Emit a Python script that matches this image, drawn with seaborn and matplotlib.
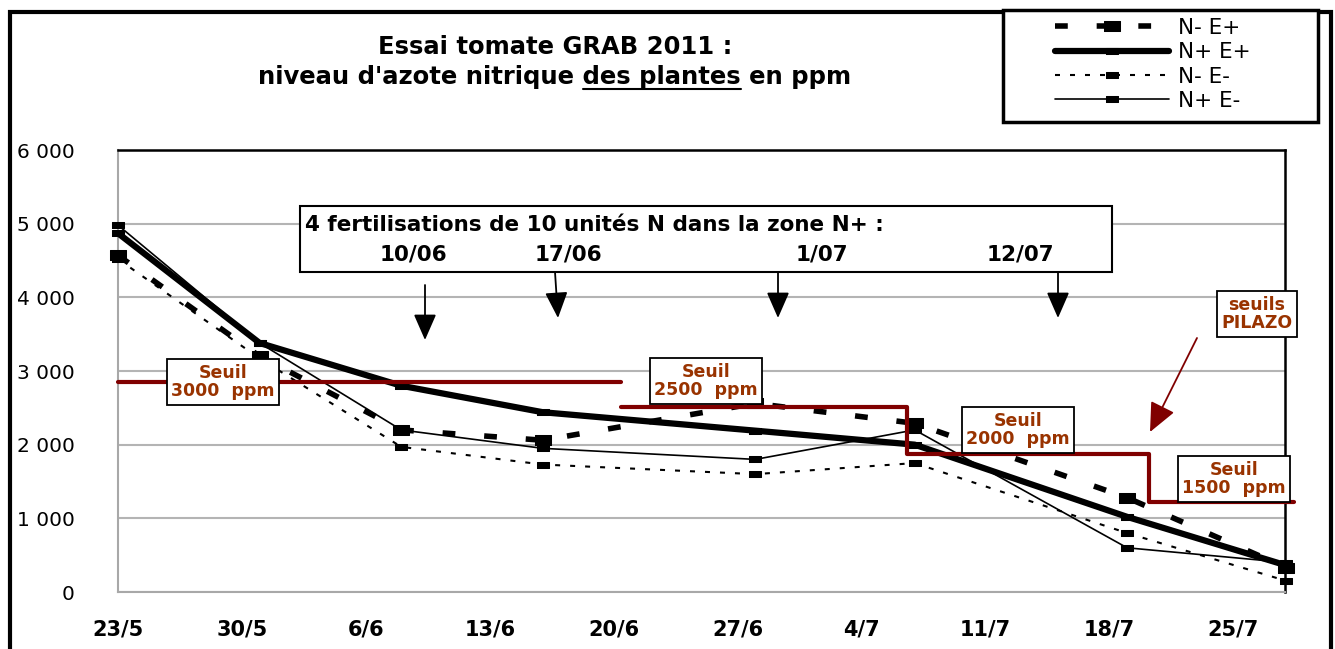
import matplotlib
matplotlib.use("Agg")
import matplotlib.pyplot as plt
from matplotlib.patches import Rectangle, FancyArrowPatch
from matplotlib.lines import Line2D
import pandas as pd
import seaborn as sns

# dates de prelevement et teneurs (ppm)
sample_dates = ['2011-05-23', '2011-05-31', '2011-06-08', '2011-06-16',
                '2011-06-28', '2011-07-07', '2011-07-19', '2011-07-28']
n_moins_e_plus = [4570, 3200, 2200, 2060, 2560, 2290, 1280, 330]
n_plus_e_plus = [4870, 3380, 2800, 2440, 2190, 2000, 1020, 360]
n_moins_e_moins = [4520, 3170, 1970, 1730, 1600, 1750, 800, 150]
n_plus_e_moins = [4980, 3380, 2200, 1950, 1800, 2200, 600, 400]
series_labels = ['N- E+', 'N+ E+', 'N- E-', 'N+ E-']

# seuils PILAZO (paliers)
seuil_a_dates = ['2011-05-23 00:00', '2011-06-20 10:00']
seuil_a_values = [2850, 2850]
seuil_b_dates = ['2011-06-20 10:00', '2011-07-06 14:00', '2011-07-06 14:00',
                 '2011-07-20 05:00', '2011-07-20 05:00', '2011-07-28 10:00']
seuil_b_values = [2510, 2510, 1880, 1880, 1220, 1220]
seuil_labels = ['Seuil\n3000  ppm', 'Seuil\n2500  ppm', 'Seuil\n2000  ppm', 'Seuil\n1500  ppm']

tick_dates = pd.date_range('2011-05-23', '2011-07-25', freq='7D')
tick_labels = ['23/5', '30/5', '6/6', '13/6', '20/6', '27/6', '4/7', '11/7', '18/7', '25/7']
fert_labels = ['10/06', '17/06', '1/07', '12/07']

W, H = 1335, 649


def fx(px):
    return px / W


def fy(py):
    return 1 - py / H


sns.set_style("white")
plt.rcParams['font.family'] = ['DejaVu Sans']
plt.rcParams['text.color'] = 'black'
plt.rcParams['xtick.labelcolor'] = 'black'
plt.rcParams['ytick.labelcolor'] = 'black'

df = pd.DataFrame({
    'date': pd.to_datetime(sample_dates * 4),
    'ppm': n_moins_e_plus + n_plus_e_plus + n_moins_e_moins + n_plus_e_moins,
    'serie': [s for s in series_labels for _ in sample_dates],
})

rect = [(-1, -0.55), (1, -0.55), (1, 0.55), (-1, 0.55), (-1, -0.55)]
styles = {
    'N- E+': dict(lw=4, linestyle=(0, (2.3, 5.2)), marker=rect, ms=12, zorder=4),
    'N+ E+': dict(lw=4.5, linestyle='-', marker=rect, ms=9, zorder=5),
    'N- E-': dict(lw=1.5, linestyle=(0, (2.4, 4.8)), marker=rect, ms=8, zorder=3),
    'N+ E-': dict(lw=1.2, linestyle='-', marker=rect, ms=8, zorder=3),
}

fig = plt.figure(figsize=(W / 100, H / 100), dpi=100)
ax = fig.add_axes([fx(118), fy(592), fx(1285) - fx(118), fy(150) - fy(592)])

for s in series_labels:
    sns.lineplot(data=df[df['serie'] == s], x='date', y='ppm', ax=ax, color='black',
                 label=s, clip_on=False, mec='black', mfc='black', **styles[s])

dark_red = '#800000'
brown = '#993300'
ax.plot(pd.to_datetime(seuil_a_dates), seuil_a_values, color=dark_red, lw=3, zorder=6, clip_on=False)
ax.plot(pd.to_datetime(seuil_b_dates), seuil_b_values, color=dark_red, lw=3, zorder=6, clip_on=False)

ax.set_xlim(pd.Timestamp('2011-05-23'), pd.Timestamp('2011-07-27 22:00'))
ax.set_ylim(0, 6000)
ax.set_yticks(range(0, 7000, 1000))
ax.set_yticklabels([f"{v:,}".replace(",", " ") for v in range(0, 7000, 1000)])
ax.set_xticks(tick_dates)
ax.set_xticklabels(tick_labels, fontweight='bold')
ax.set_xlabel('')
ax.set_ylabel('')
ax.get_legend().remove()

ax.grid(axis='y', color='#b4b4b4', lw=1.5)
ax.grid(axis='x', visible=False)
for side in ['left', 'bottom']:
    ax.spines[side].set_color('#a8a8a8')
    ax.spines[side].set_linewidth(1.5)
for side in ['top', 'right']:
    ax.spines[side].set_color('black')
    ax.spines[side].set_linewidth(1.8)
ax.tick_params(axis='y', direction='out', length=6, color='#a8a8a8', width=1.2, labelsize=14.5, pad=25)
ax.tick_params(axis='x', direction='out', length=6, color='#a8a8a8', width=1.2, labelsize=15, pad=14)

# titre
title_size = 17.5
fig.text(fx(555), fy(54), "Essai tomate GRAB 2011 :", ha='center', va='baseline',
         fontsize=title_size, fontweight='bold')
line2 = "niveau d'azote nitrique des plantes en ppm"
t2 = fig.text(fx(555), fy(84), line2, ha='center', va='baseline', fontsize=title_size, fontweight='bold')
renderer = fig.canvas.get_renderer()
bb = t2.get_window_extent(renderer)


def text_width(s):
    tmp = fig.text(0, 0, s, fontsize=title_size, fontweight='bold')
    w = tmp.get_window_extent(renderer).width
    tmp.remove()
    return w


x_start = bb.x0 + text_width("niveau d'azote nitrique d") - text_width("d")
x_end = bb.x0 + text_width("niveau d'azote nitrique des plantes")
fig.add_artist(Line2D([x_start / W, x_end / W], [fy(89), fy(89)], color='black', lw=1.5))

# cadre exterieur
fig.add_artist(Rectangle((fx(9.5), -0.05), fx(1330.5) - fx(9.5), fy(11.5) + 0.05, fill=False,
                         ec='black', lw=3, clip_on=False))

# legende
fig.add_artist(Rectangle((fx(1003), fy(122)), fx(1318) - fx(1003), fy(10) - fy(122),
                         fc='white', ec='black', lw=2.5, zorder=2))
handles, labels = ax.get_legend_handles_labels()
leg = fig.legend(handles[:4], labels[:4], loc='upper left', bbox_to_anchor=(fx(1055), fy(18)),
                 frameon=False, fontsize=15.5, handlelength=5.3, handletextpad=0.4,
                 labelspacing=0.2, borderpad=0, borderaxespad=0)
leg.set_zorder(5)

# encadre des fertilisations
fig.add_artist(Rectangle((fx(300), fy(272)), fx(1112) - fx(300), fy(206) - fy(272),
                         fc='white', ec='black', lw=1.5, zorder=2))
fig.text(fx(305), fy(225), "4 fertilisations de 10 unités N dans la zone N+ :", ha='left',
         va='center', fontsize=15.5, fontweight='bold', zorder=4)
for lab, px in zip(fert_labels, [413, 568, 822, 1020]):
    fig.text(fx(px), fy(255), lab, ha='center', va='center', fontsize=15.5, fontweight='bold', zorder=4)
for (x0, y0, x1, y1) in [(425, 285, 425, 340), (555, 272, 558, 318), (778, 272, 778, 318),
                         (1058, 272, 1058, 318)]:
    fig.add_artist(FancyArrowPatch((fx(x0), fy(y0)), (fx(x1), fy(y1)),
                                   arrowstyle='-|>,head_length=0.8,head_width=0.35', mutation_scale=20,
                                   color='black', lw=1.3, shrinkA=0, shrinkB=0, zorder=4))

# etiquettes des seuils
box = dict(boxstyle='square,pad=0.25', fc='white', ec='black', lw=1.3)
for lab, (px, py) in zip(seuil_labels, [(223, 382), (706, 381), (1018, 430), (1234, 479)]):
    fig.text(fx(px), fy(py), lab, ha='center', va='center', fontsize=12.5, fontweight='bold',
             color=brown, linespacing=1.05, bbox=box, zorder=7)
fig.text(fx(1257), fy(314), "seuils\nPILAZO", ha='center', va='center', fontsize=12.5,
         fontweight='bold', color=brown, linespacing=1.05, bbox=box, zorder=7)
fig.add_artist(FancyArrowPatch((fx(1197), fy(338)), (fx(1150), fy(432)),
                               arrowstyle='-|>,head_length=1.0,head_width=0.45', mutation_scale=18,
                               color=dark_red, lw=1.3, shrinkA=0, shrinkB=0, zorder=7))

fig.savefig('out.png', dpi=100)
